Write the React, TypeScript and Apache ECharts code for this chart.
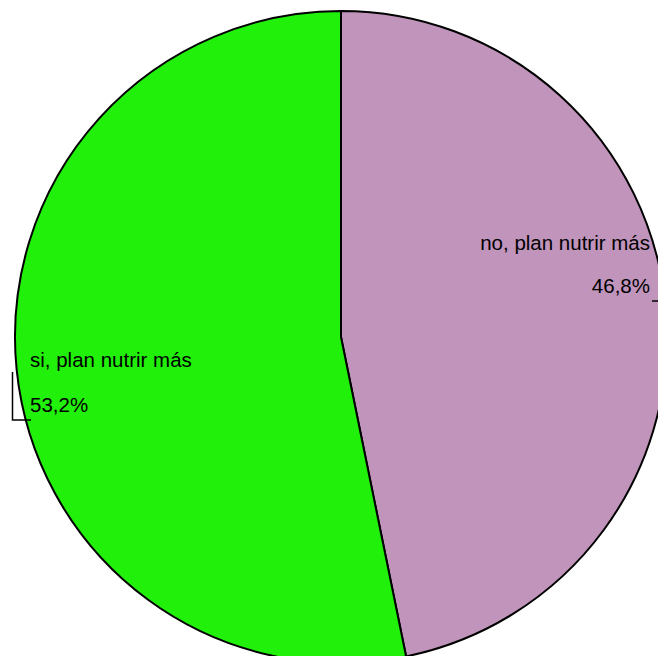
import React, { useEffect, useRef } from "react";
import * as echarts from "echarts";

const categories: string[] = ["no, plan nutrir más", "si, plan nutrir más"];
const values: number[] = [46.8, 53.2];
const colors: string[] = ["#C194BB", "#21F00B"];

const fmtPct = (v: number) => v.toFixed(1).replace(".", ",") + "%";

export default function App() {
  const ref = useRef<HTMLDivElement>(null);
  useEffect(() => {
    if (!ref.current) return;
    const chart = echarts.init(ref.current, undefined, { renderer: "svg" });
    const font = "'Liberation Sans', Arial, sans-serif";
    const fs = 20.5;
    const txt = (x: number, y: number, text: string, align: string) => ({
      type: "text",
      x,
      y,
      z: 100,
      style: { text, fill: "#000", font: `${fs}px ${font}`, align, verticalAlign: "middle" },
    });
    chart.setOption({
      animation: false,
      backgroundColor: "#ffffff",
      series: [
        {
          type: "pie",
          center: [341, 337],
          radius: 326,
          startAngle: 90,
          clockwise: true,
          label: { show: false },
          labelLine: { show: false },
          emphasis: { disabled: true },
          itemStyle: { borderColor: "#000000", borderWidth: 2 },
          data: categories.map((c, i) => ({
            name: c,
            value: values[i],
            itemStyle: { color: colors[i] },
          })),
        },
      ],
      graphic: [
        txt(650, 242, categories[0], "right"),
        txt(650, 285, fmtPct(values[0]), "right"),
        txt(30, 359, categories[1], "left"),
        txt(30, 404, fmtPct(values[1]), "left"),
        {
          type: "polyline",
          z: 100,
          shape: { points: [[652, 301], [660, 301]] },
          style: { stroke: "#000", lineWidth: 1.5, fill: null },
        },
        {
          type: "polyline",
          z: 100,
          shape: { points: [[12.5, 372], [12.5, 420], [31, 420]] },
          style: { stroke: "#000", lineWidth: 1.5, fill: null },
        },
      ],
    });
    return () => chart.dispose();
  }, []);
  return (
    <div
      ref={ref}
      style={{ position: "fixed", left: 0, top: 0, width: 658, height: 656, background: "#fff" }}
    />
  );
}
